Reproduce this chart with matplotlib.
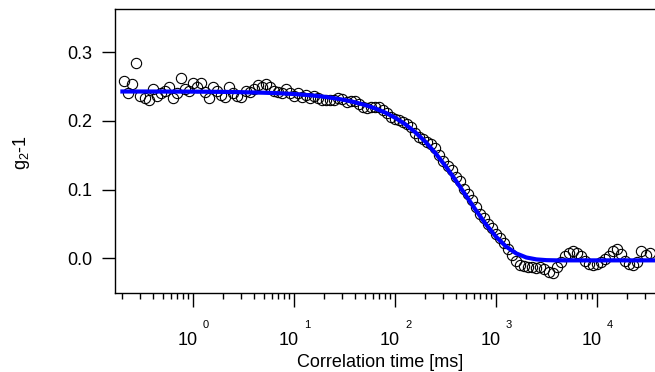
import matplotlib
matplotlib.use("Agg")
import matplotlib.pyplot as plt
from matplotlib.ticker import LogLocator, NullFormatter, FixedLocator, FormatStrFormatter

plt.rcParams['font.family'] = ['Liberation Sans', 'DejaVu Sans']
plt.rcParams['mathtext.default'] = 'regular'

# --- data ---
# lag times [ms]
lag_ms = [0.209, 0.229, 0.251, 0.275, 0.302, 0.331, 0.363, 0.398, 0.437, 0.479,
          0.525, 0.575, 0.631, 0.692, 0.759, 0.832, 0.912,
          1.00, 1.10, 1.20, 1.32, 1.45, 1.58, 1.74, 1.91, 2.09, 2.29, 2.51, 2.75,
          3.02, 3.31, 3.63, 3.98, 4.37, 4.79, 5.25, 5.75, 6.31, 6.92, 7.59, 8.32, 9.12,
          10.0, 11.0, 12.0, 13.2, 14.5, 15.8, 17.4, 19.1, 20.9, 22.9, 25.1, 27.5,
          30.2, 33.1, 36.3, 39.8, 43.7, 47.9, 52.5, 57.5, 63.1, 69.2, 75.9, 83.2, 91.2,
          100, 110, 120, 132, 145, 158, 174, 191, 209, 229, 251, 275,
          302, 331, 363, 398, 437, 479, 525, 575, 631, 692, 759, 832, 912,
          1000, 1100, 1200, 1320, 1450, 1580, 1740, 1910, 2090, 2290, 2510, 2750,
          3020, 3310, 3630, 3980, 4370, 4790, 5250, 5750, 6310, 6920, 7590, 8320, 9120,
          10000, 11000, 12000, 13200, 14500, 15800, 17400, 19100, 20900, 22900,
          25100, 27500, 30200, 33100]

g2_minus_1 = [0.258, 0.240, 0.254, 0.285, 0.236, 0.233, 0.231, 0.247, 0.236, 0.240,
              0.244, 0.250, 0.233, 0.241, 0.263, 0.247, 0.243,
              0.255, 0.249, 0.255, 0.242, 0.233, 0.249, 0.244, 0.238, 0.235, 0.249,
              0.241, 0.236, 0.235, 0.243, 0.242, 0.246, 0.252, 0.250, 0.254, 0.249,
              0.244, 0.242, 0.240, 0.247, 0.241,
              0.237, 0.240, 0.235, 0.238, 0.234, 0.237, 0.233, 0.231, 0.231, 0.231,
              0.231, 0.234, 0.232, 0.227, 0.229, 0.229, 0.224, 0.220, 0.219, 0.220,
              0.221, 0.220, 0.216, 0.211, 0.206,
              0.203, 0.201, 0.199, 0.196, 0.191, 0.183, 0.177, 0.173, 0.170, 0.166,
              0.160, 0.151, 0.141, 0.135, 0.129, 0.119, 0.112, 0.101, 0.093, 0.085,
              0.075, 0.065, 0.059, 0.050, 0.044,
              0.036, 0.029, 0.022, 0.013, 0.005, -0.004, -0.010, -0.011, -0.013, -0.012,
              -0.014, -0.012, -0.016, -0.020, -0.022, -0.013, -0.006, 0.003, 0.008, 0.011,
              0.007, 0.003, -0.004, -0.008, -0.010,
              -0.009, -0.005, -0.001, 0.004, 0.010, 0.013, 0.006, -0.004, -0.009, -0.010,
              -0.006, 0.011, 0.005, 0.008]

# fitted curve
fit_ms = [0.2, 0.5, 1, 2, 3, 5, 7, 10, 12.6, 15.8, 20, 25.1, 31.6, 39.8, 50.1, 63.1,
          79.4, 100, 126, 158, 200, 251, 316, 398, 501, 631, 794, 1000, 1259, 1585,
          1995, 2512, 3162, 3981, 36000]
fit_g2 = [0.2429, 0.2428, 0.2427, 0.2423, 0.2419, 0.2411, 0.2404, 0.2392, 0.2381,
          0.2369, 0.2352, 0.2331, 0.2305, 0.2273, 0.2234, 0.2185, 0.2124, 0.2048,
          0.1953, 0.1838, 0.1697, 0.1532, 0.1343, 0.1136, 0.0919, 0.0701, 0.0495,
          0.0314, 0.0171, 0.0071, 0.0012, -0.0016, -0.0027, -0.0030, -0.0030]

decades = [1e0, 1e1, 1e2, 1e3, 1e4]
decade_exp = ['0', '1', '2', '3', '4']
y_ticks = [0.0, 0.1, 0.2, 0.3]

# --- figure ---
fig = plt.figure(figsize=(6.55, 3.72), dpi=100)
ax = fig.add_axes([0.1756, 0.2124, 0.8244, 0.7621])

ax.plot(lag_ms, g2_minus_1, 'o', mfc='none', mec='black', ms=7.4, mew=0.8, zorder=2)
ax.plot(fit_ms, fit_g2, color='#0000ff', lw=3.0, zorder=3)

ax.set_xscale('log')
ax.set_xlim(0.169, 37500)
ax.set_ylim(-0.0505, 0.3623)

ax.spines['right'].set_visible(False)
for s in ['left', 'bottom', 'top']:
    ax.spines[s].set_linewidth(1.0)

ax.yaxis.set_major_locator(FixedLocator(y_ticks))
ax.yaxis.set_major_formatter(FormatStrFormatter('%.1f'))
ax.tick_params(axis='y', direction='out', length=9.5, width=1.0, pad=7, labelsize=13)

ax.xaxis.set_major_locator(FixedLocator(decades))
ax.xaxis.set_minor_locator(LogLocator(base=10, subs=range(2, 10), numticks=20))
ax.xaxis.set_minor_formatter(NullFormatter())
ax.set_xticklabels([])
ax.tick_params(axis='x', which='major', direction='out', length=10, width=1.0)
ax.tick_params(axis='x', which='minor', direction='out', length=4.5, width=1.0)

# Igor-style decade labels: "10" with a raised exponent
for d, e in zip(decades, decade_exp):
    ax.annotate('10', xy=(d, 0), xycoords=('data', 'axes fraction'),
                xytext=(-3.6, -37.4), textcoords='offset points',
                ha='center', va='baseline', fontsize=13, annotation_clip=False)
    ax.annotate(e, xy=(d, 0), xycoords=('data', 'axes fraction'),
                xytext=(9.4, -25.2), textcoords='offset points',
                ha='center', va='baseline', fontsize=8, annotation_clip=False)

fig.text(380.5 / 655, (372 - 367) / 372, 'Correlation time [ms]',
         ha='center', va='baseline', fontsize=13)
fig.text(21.5 / 655, 1 - 153 / 372, 'g$_{2}$-1', rotation=90,
         ha='center', va='center', fontsize=13)

fig.savefig('out.png', dpi=100)
